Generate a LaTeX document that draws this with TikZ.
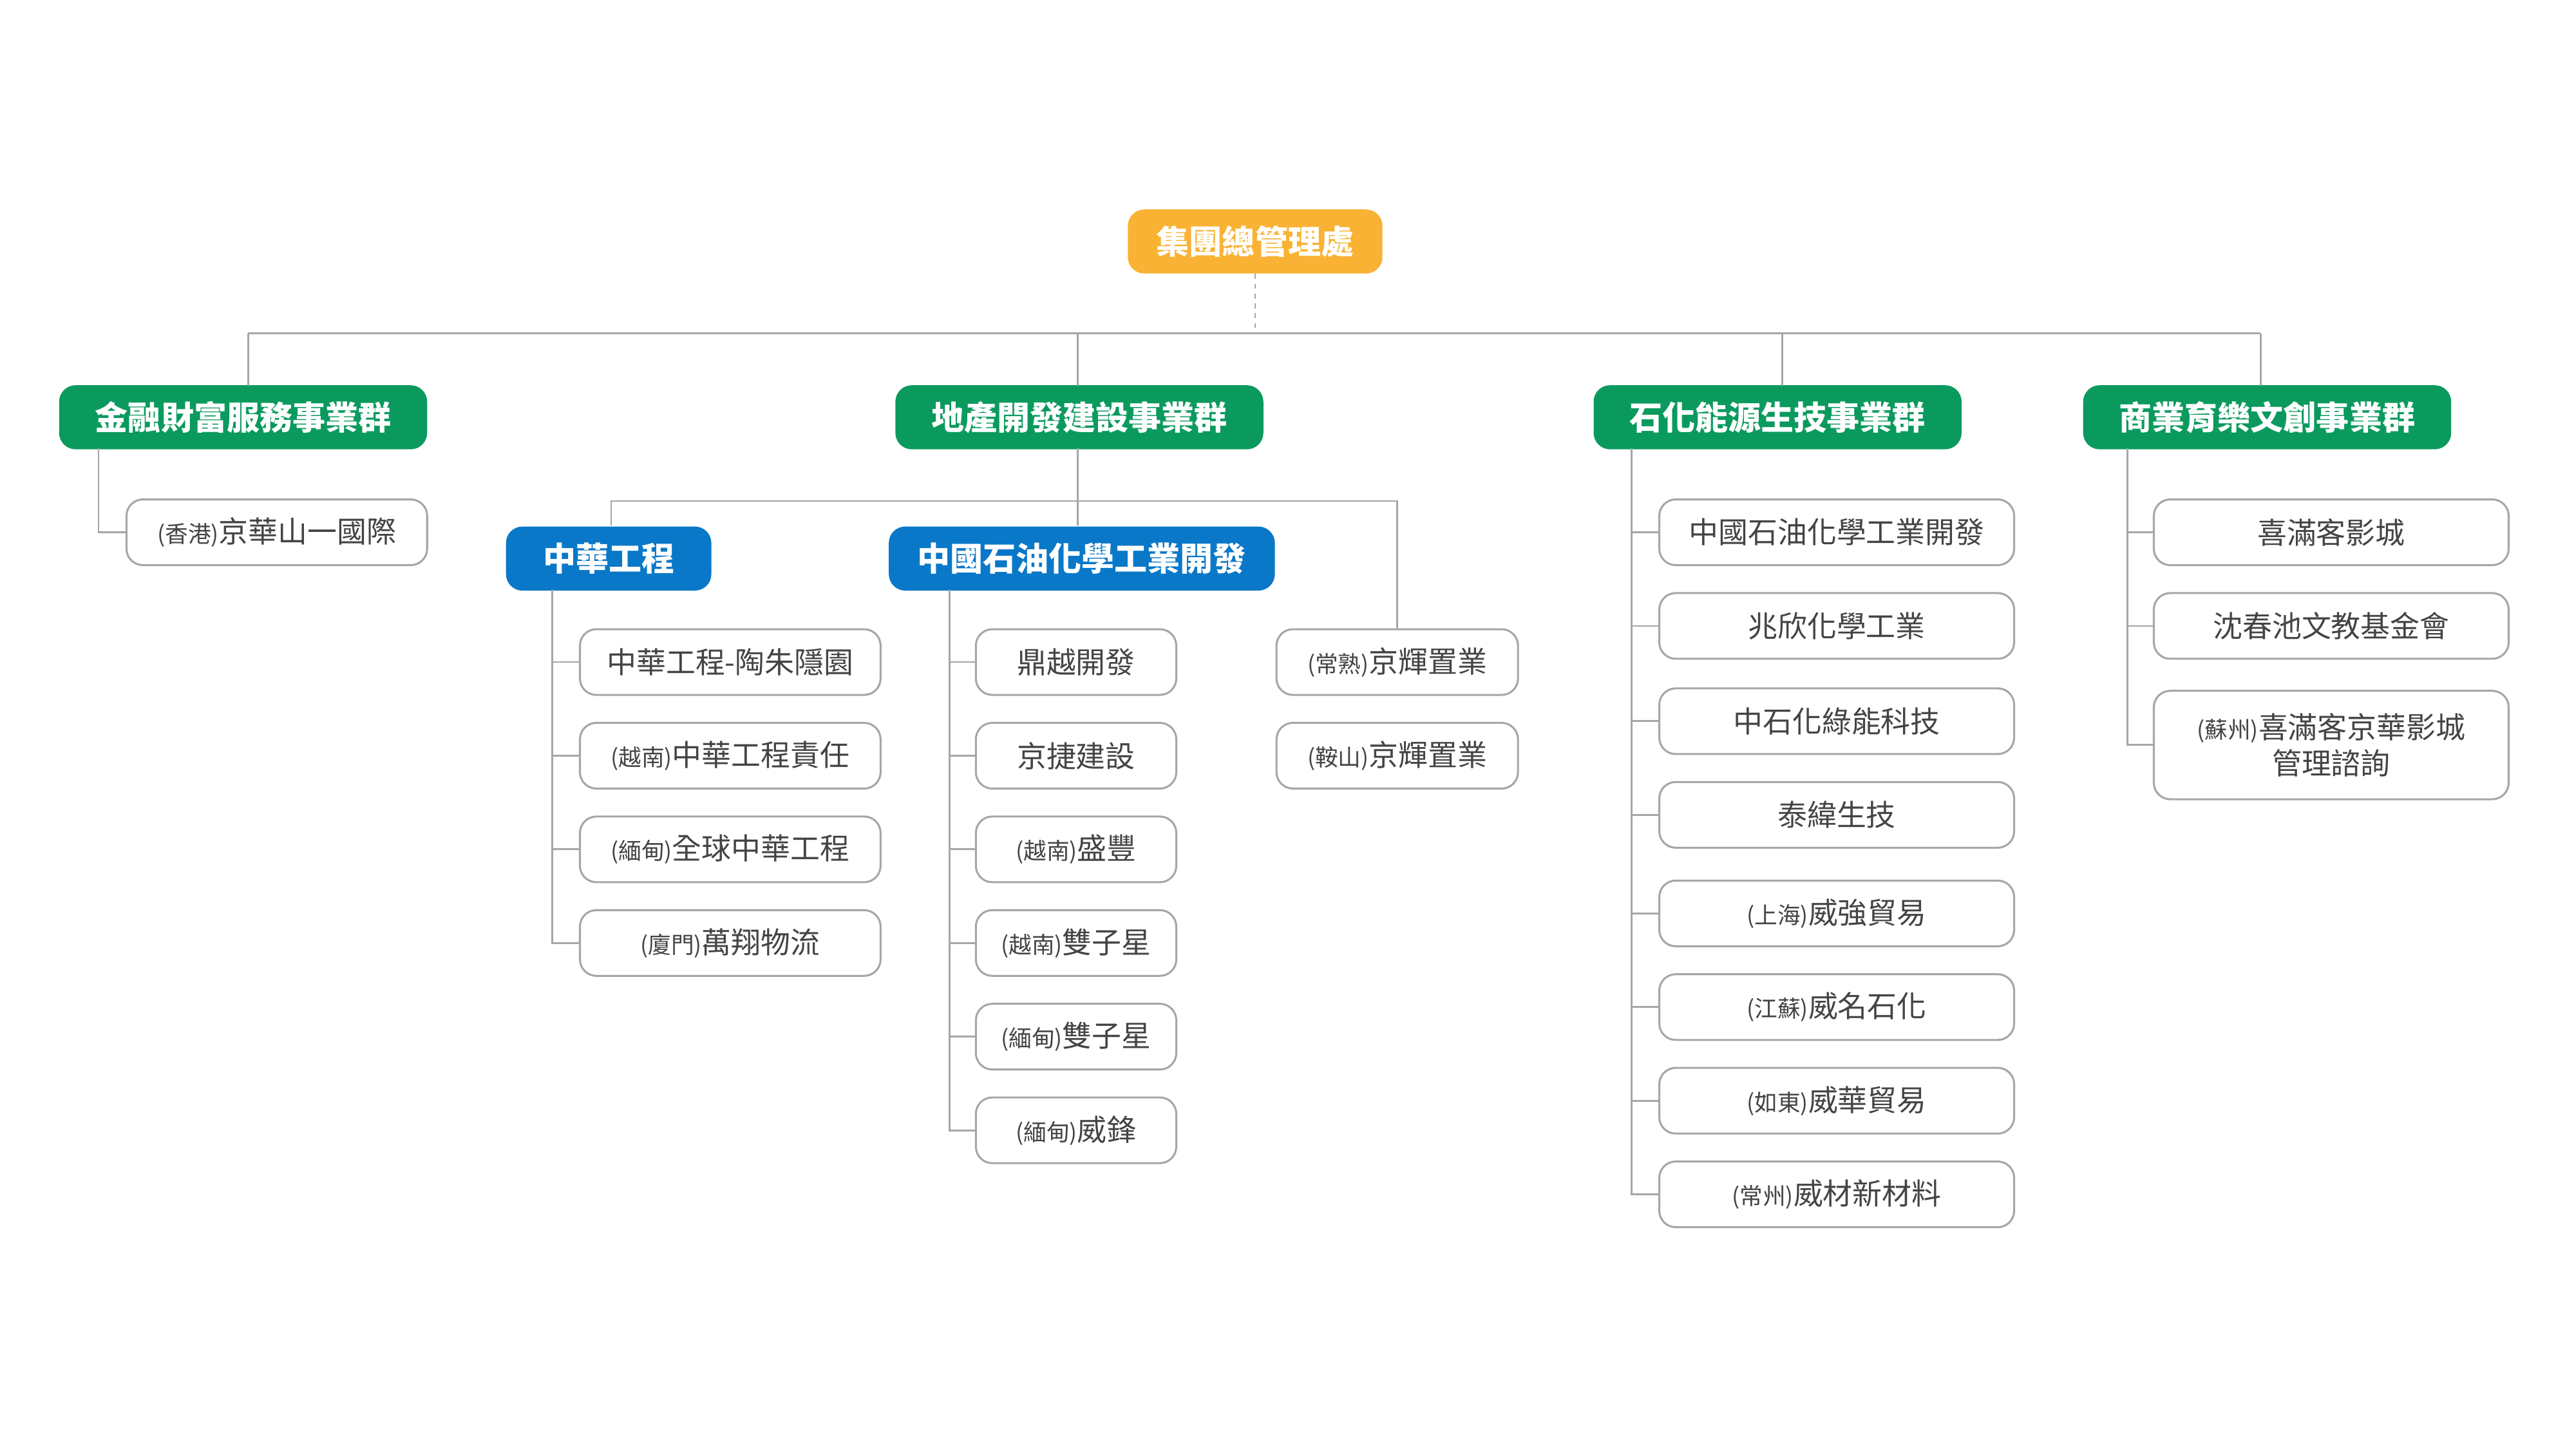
\documentclass[tikz,border=0pt]{standalone}
\usepackage{fontspec}
\setmainfont{Noto Sans CJK TC}
\definecolor{org}{HTML}{F9B233}
\definecolor{grn}{HTML}{0B9A5E}
\definecolor{blu}{HTML}{0A78C8}
\definecolor{ln}{HTML}{A6A6A6}
\definecolor{txt}{HTML}{444444}
\newcommand{\pf}[1]{{\fontsize{14}{16}\selectfont(#1)}}
\begin{document}
\begin{tikzpicture}[x=1pt,y=-1pt,
  lead/.style={draw=none,rounded corners=10pt,text=white,font=\fontsize{20}{24}\selectfont\bfseries,minimum height=39pt,inner sep=0pt},
  leaf/.style={draw=ln,line width=1.2pt,rounded corners=10pt,text=txt,font=\fontsize{18}{22}\selectfont,minimum height=40pt,inner sep=0pt,align=center},
  con/.style={draw=ln,line width=1.1pt}]
\useasboundingbox (0,0) rectangle (1568,882);
\node[lead,fill=org,minimum width=155pt] (root) at (764,147) {集團總管理處};
\node[lead,fill=grn,minimum width=224pt] (g1) at (148,254) {金融財富服務事業群};
\node[lead,fill=grn,minimum width=224pt] (g2) at (657,254) {地產開發建設事業群};
\node[lead,fill=grn,minimum width=224pt] (g3) at (1082,254) {石化能源生技事業群};
\node[lead,fill=grn,minimum width=224pt] (g4) at (1380,254) {商業育樂文創事業群};
\coordinate (h) at (764,203);
\draw[con,dashed] (root.south) -- (h);
\draw[con] (151,203) -- (1376,203);
\draw[con] (151,203) -- (151,235);
\draw[con] (656,203) -- (656,235);
\draw[con] (1085,203) -- (1085,235);
\draw[con] (1376,203) -- (1376,235);
% G1
\node[leaf,minimum width=183pt] (a1) at (168.5,324) {\pf{香港}京華山一國際};
\draw[con] (60,273) |- (a1.west);
% G2
\node[lead,fill=blu,minimum width=125pt] (b1) at (370.5,340) {中華工程};
\node[lead,fill=blu,minimum width=235pt] (b2) at (658.5,340) {中國石油化學工業開發};
\node[leaf,minimum width=147pt] (k1) at (850.5,403) {\pf{常熟}京輝置業};
\node[leaf,minimum width=147pt] (k2) at (850.5,460) {\pf{鞍山}京輝置業};
\draw[con] (656,273) -- (656,320);
\draw[con] (372,320) |- (656,305) -| (k1.north);
\foreach \t [count=\i] in {中華工程-陶朱隱園,\pf{越南}中華工程責任,\pf{緬甸}全球中華工程,\pf{廈門}萬翔物流}{
  \node[leaf,minimum width=183pt] (c\i) at (444.5,346+57*\i) {\t};
  \draw[con] (336,359) |- (c\i.west);}
\foreach \t [count=\i] in {鼎越開發,京捷建設,\pf{越南}盛豐,\pf{越南}雙子星,\pf{緬甸}雙子星,\pf{緬甸}威鋒}{
  \node[leaf,minimum width=122pt] (d\i) at (655,346+57*\i) {\t};
  \draw[con] (578,359) |- (d\i.west);}
% G3
\foreach \t/\y [count=\i] in {中國石油化學工業開發/324,兆欣化學工業/381,中石化綠能科技/439,泰緯生技/496,\pf{上海}威強貿易/556,\pf{江蘇}威名石化/613,\pf{如東}威華貿易/670,\pf{常州}威材新材料/727}{
  \node[leaf,minimum width=216pt] (e\i) at (1118,\y) {\t};
  \draw[con] (993,273) |- (e\i.west);}
% G4
\node[leaf,minimum width=216pt] (f1) at (1419,324) {喜滿客影城};
\node[leaf,minimum width=216pt] (f2) at (1419,381) {沈春池文教基金會};
\node[leaf,minimum width=216pt,minimum height=66pt,font=\fontsize{18}{22}\selectfont] (f3) at (1419,453.5) {\pf{蘇州}喜滿客京華影城\\管理諮詢};
\foreach \i in {1,2,3}{\draw[con] (1295,273) |- (f\i.west);}
\end{tikzpicture}
\end{document}
